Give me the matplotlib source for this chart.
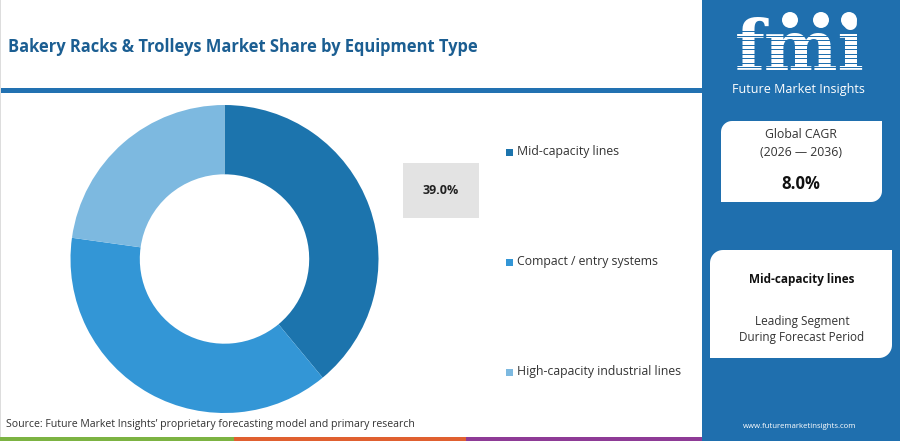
import numpy as np
import matplotlib
matplotlib.use("Agg")
import matplotlib.pyplot as plt
from matplotlib.patches import Rectangle, Polygon, Circle

plt.rcParams['font.family'] = ['Open Sans', 'DejaVu Sans']

# data
segments = ['Mid-capacity lines', 'Compact / entry systems', 'High-capacity industrial lines']
shares = [39.0, 38.2, 22.8]
colors = ['#1c74ad', '#3396d6', '#7db9e0']
highlight = '39.0%'
cagr = '8.0%'
cagr_period = '(2026 \u2014 2036)'
leader = 'Mid-capacity lines'

W, H = 900, 441
fig = plt.figure(figsize=(9, 4.41), dpi=100)

# full-figure canvas in pixel coords
bg = fig.add_axes([0, 0, 1, 1])
bg.set_xlim(0, W)
bg.set_ylim(H, 0)
bg.axis('off')

blue = '#1f6fae'

# title + header rule
bg.text(8, 47, 'Bakery Racks & Trolleys Market Share by Equipment Type',
        fontsize=11.9, fontweight='bold', color='#1b5e92', va='center', ha='left')
bg.add_patch(Rectangle((0, 88), 702, 5, color='#2271b1', lw=0))
bg.add_patch(Rectangle((0, 0), 1, H, color='#dddddd', lw=0))

# highlight box
bg.add_patch(Rectangle((403, 163), 76, 55, color='#e3e3e3', lw=0))
bg.text(441, 191, highlight, fontsize=9, fontweight='bold', color='#222222',
        ha='center', va='center')

# legend
for i, (lab, c) in enumerate(zip(segments, colors)):
    y = 152 + i * 110
    bg.add_patch(Rectangle((506, y - 3.5), 7, 7, color=c, lw=0))
    bg.text(517, y, lab, fontsize=8.8, color='#333333', ha='left', va='center')

# source + bottom colour strips
bg.text(6, 424, "Source: Future Market Insights\u2019 proprietary forecasting model and primary research",
        fontsize=7.6, color='#333333', ha='left', va='center')
bg.add_patch(Rectangle((0, 437), 234, 4, color='#7cb342', lw=0))
bg.add_patch(Rectangle((234, 437), 232, 4, color='#e06030', lw=0))
bg.add_patch(Rectangle((466, 437), 236, 4, color='#8e3b96', lw=0))

# right panel
bg.add_patch(Rectangle((702, 0), W - 702, H, color=blue, lw=0))

# logo
bg.text(800, 50, 'fmi', fontsize=50, fontweight='bold', family='DejaVu Serif',
        color='white', ha='center', va='center')
for yy in np.arange(31, 78, 4.5):
    bg.add_patch(Rectangle((725, yy), 150, 1.2, color=blue, lw=0, zorder=4))
for cx in (790, 821, 849):
    bg.add_patch(Circle((cx, 20), 8, color='white', lw=0, zorder=5))
bg.text(798, 90, 'Future Market Insights', fontsize=9, color='white',
        ha='center', va='center')


def leaf_box(x0, y0, x1, y1, r):
    # rounded top-left and bottom-right corners
    t = np.linspace(0, np.pi / 2, 12)
    pts = [(x1, y0)]
    pts += list(zip(x1 - r + r * np.cos(t), y1 - r + r * np.sin(t)))
    pts += [(x0, y1)]
    pts += list(zip(x0 + r - r * np.cos(t), y0 + r - r * np.sin(t)))
    return Polygon(pts, closed=True, color='white', lw=0)


bg.add_patch(leaf_box(721, 121, 882, 202, 11))
bg.text(801, 135, 'Global CAGR', fontsize=8.8, color='#333333', ha='center', va='center')
bg.text(801, 152, cagr_period, fontsize=8.8, color='#333333', ha='center', va='center')
bg.text(801, 184, cagr, fontsize=12, fontweight='bold', color='#111111', ha='center', va='center')

bg.add_patch(leaf_box(710, 250, 892, 358, 13))
bg.text(802, 280, leader, fontsize=8.5, fontweight='bold', color='#111111', ha='center', va='center')
bg.text(802, 322, 'Leading Segment', fontsize=8.5, color='#333333', ha='center', va='center')
bg.text(802, 338, 'During Forecast Period', fontsize=8.5, color='#333333', ha='center', va='center')

bg.text(800, 426, 'www.futuremarketinsights.com', fontsize=5.6, color='white',
        ha='center', va='center')

# donut
cx, cy, R = 224.5, 259, 154
ax = fig.add_axes([(cx - R) / W, (H - cy - R) / H, 2 * R / W, 2 * R / H])
ax.pie(shares, colors=colors, startangle=90, counterclock=False, radius=1,
       wedgeprops=dict(width=0.45, linewidth=0))
ax.set_xlim(-1, 1)
ax.set_ylim(-1, 1)
ax.set_aspect('equal')
ax.axis('off')

fig.savefig('out.png', dpi=100)
